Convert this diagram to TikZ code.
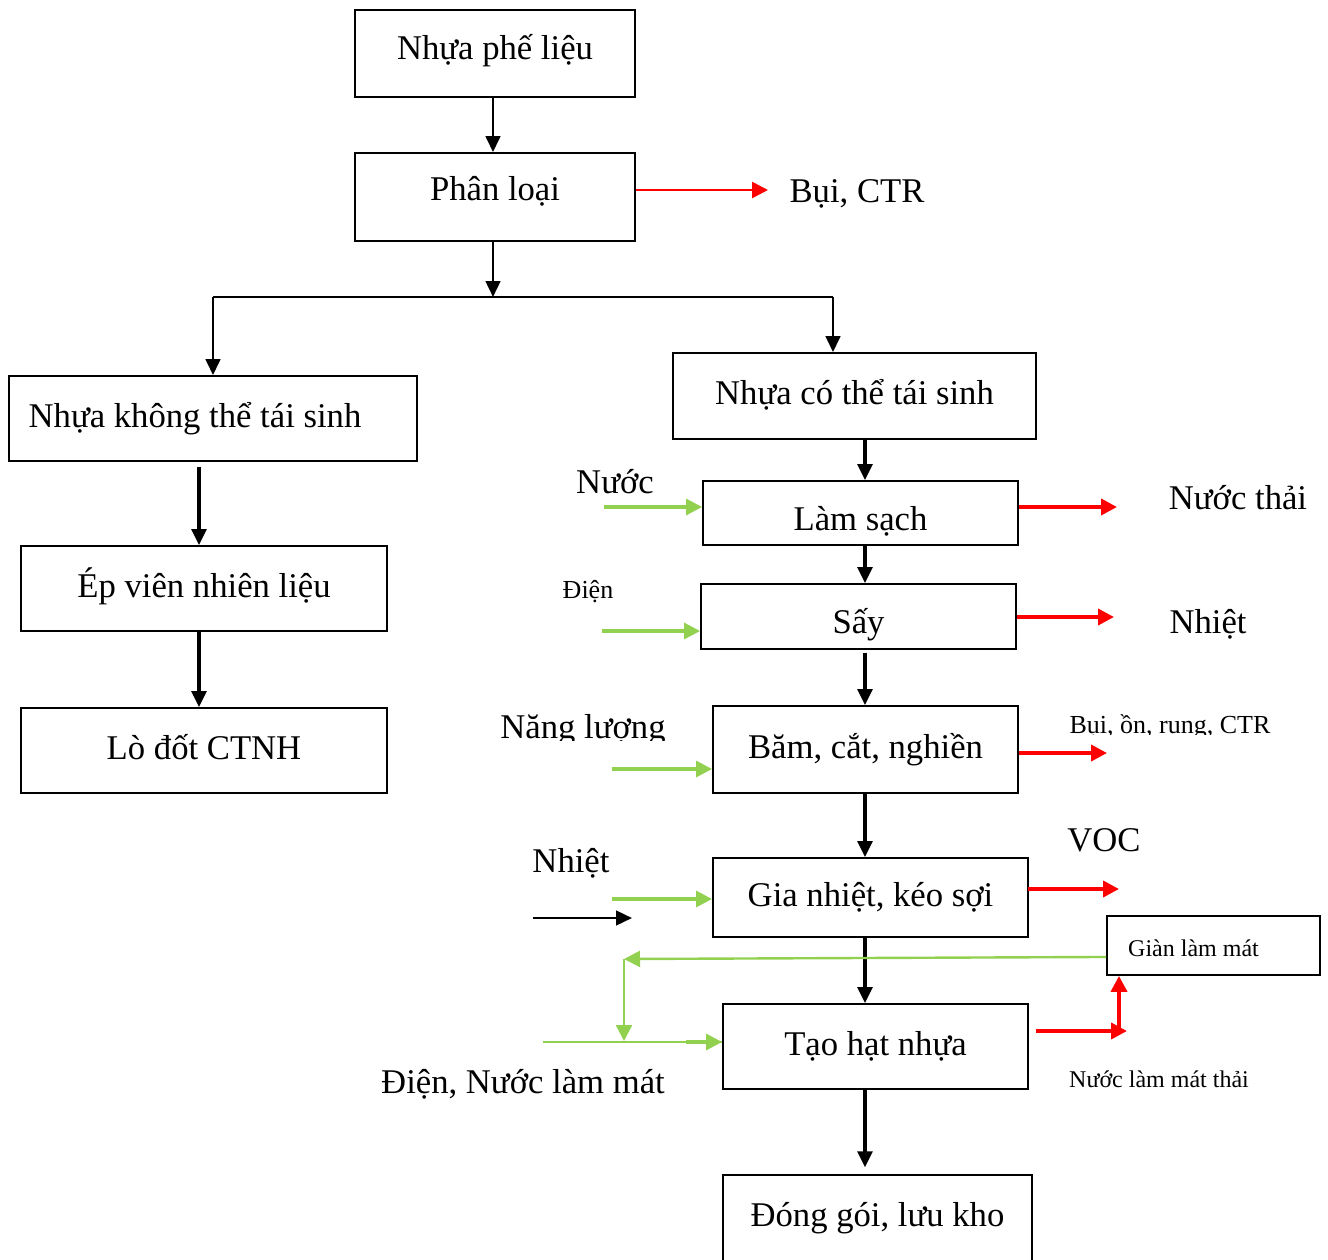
\documentclass[tikz,border=0pt]{standalone}
\usepackage{fontspec}
\setmainfont{Liberation Serif}
\usetikzlibrary{arrows.meta}
\definecolor{grn}{RGB}{146,208,80}
\definecolor{rd}{RGB}{255,0,0}
\begin{document}
\begin{tikzpicture}[x=0.75pt,y=-0.75pt,
  box/.style={draw, line width=1.4pt, inner sep=0pt, font=\fontsize{26}{30}\selectfont, text height=18pt, text depth=5pt},
  sbox/.style={draw, line width=1.4pt, inner sep=0pt, font=\fontsize{18}{21}\selectfont, text height=21pt, text depth=4pt},
  barr/.style={line width=2.6pt, -{Triangle[length=12pt,width=11pt]}},
  tarr/.style={line width=1.9pt, -{Triangle[length=12pt,width=11pt]}},
  garr/.style={grn, line width=2.3pt, -{Triangle[length=12pt,width=12pt]}},
  rarr/.style={rd, line width=2.8pt, -{Triangle[length=12pt,width=12pt]}},
  big/.style={font=\fontsize{26}{30}\selectfont, inner sep=0pt, anchor=base},
  small/.style={font=\fontsize{19.5}{22}\selectfont, inner sep=0pt, anchor=base},
  tiny/.style={font=\fontsize{18}{21}\selectfont, inner sep=0pt, anchor=base}]
\useasboundingbox (0,0) rectangle (1328,1260);

% boxes
\node[box, minimum width=210pt, minimum height=65.25pt, text depth=9.5pt] (n1) at (495,53.5) {Nhựa phế liệu};
\node[box, minimum width=210pt, minimum height=66pt, text depth=12.5pt] (n2) at (495,197) {Phân loại};
\node[box, minimum width=306pt, minimum height=63.75pt] (nk) at (213,418.5) {Nhựa không thể tái sinh\hspace*{27pt}};
\node[box, minimum width=274.5pt, minimum height=63.75pt] (ne) at (204,588.5) {Ép viên nhiên liệu};
\node[box, minimum width=274.5pt, minimum height=63.75pt] (nl) at (204,750.5) {Lò đốt CTNH};
\node[box, minimum width=272.25pt, minimum height=64.5pt] (nc) at (854.5,396) {Nhựa có thể tái sinh};
\node[box, minimum width=236.25pt, minimum height=48pt, text height=31pt] (ls) at (860.5,513) {Làm sạch};
\node[box, minimum width=236.25pt, minimum height=48.75pt, text height=30pt] (say) at (858.5,616.5) {Sấy};
\node[box, minimum width=228.75pt, minimum height=65.25pt] (bam) at (865.5,749.5) {Băm, cắt, nghiền};
\node[box, minimum width=236.25pt, minimum height=59.25pt] (gia) at (870.5,897.5) {Gia nhiệt, kéo sợi};
\node[box, minimum width=228.75pt, minimum height=63.75pt] (tao) at (875.5,1046.5) {Tạo hạt nhựa};
\node[box, minimum width=231.75pt, minimum height=93.75pt, text depth=35pt] (dong) at (877.5,1237.5) {Đóng gói, lưu kho};
\node[sbox, minimum width=159.75pt, minimum height=44.25pt] (gian) at (1213.5,945.5) {Giàn làm mát\hspace*{30pt}};

% labels
\node[big] (lbui) at (857,202) {Bụi, CTR};
\node[big] (lnuoc) at (615,493) {Nước};
\node[small] (ldien) at (588,598) {Điện};
\begin{scope}
  \clip (450,690) rectangle (700,740);
  \node[big] (lnang) at (583,738) {Năng lượng};
\end{scope}
\node[big] (lnhiet) at (571,872) {Nhiệt};
\node[big] (ldnlm) at (523,1093) {Điện, Nước làm mát};
\node[big] (lnt) at (1238,509) {Nước thải};
\node[big] (lnhr) at (1208,633) {Nhiệt};
\begin{scope}
  \clip (1050,690) rectangle (1300,734);
  \node[small] (lbon) at (1170,733) {Bụi, ồn, rung, CTR};
\end{scope}
\node[big] (lvoc) at (1104,851) {VOC};
\node[tiny] (lnlmt) at (1159,1087) {Nước làm mát thải};

% coordinates
\coordinate (c493) at (493,0);
\coordinate (j) at (493,297);
\coordinate (jl) at (213,297);
\coordinate (jr) at (833,297);
\coordinate (lc) at (199,0);
\coordinate (cc) at (865,0);

% black flow
\draw[tarr] (n1.south -| c493) -- (n2.north -| c493);
\draw[tarr] (n2.south -| c493) -- (j);
\draw[line width=1.9pt] (jl) -- (jr);
\draw[tarr] (jl) -- (nk.north -| jl);
\draw[tarr] (jr) -- (nc.north -| jr);
\draw[barr] ([yshift=-3.5pt]nk.south -| lc) -- (ne.north -| lc);
\draw[barr] (ne.south -| lc) -- (nl.north -| lc);
\draw[barr] (nc.south -| cc) -- (ls.north -| cc);
\draw[barr] (ls.south -| cc) -- (say.north -| cc);
\draw[barr] ([yshift=-2pt]say.south -| cc) -- (bam.north -| cc);
\draw[barr] (bam.south -| cc) -- (gia.north -| cc);
\draw[barr] (gia.south -| cc) -- (tao.north -| cc);
\draw[barr] (tao.south -| cc) -- ([yshift=5pt]dong.north -| cc);

% green inputs
\coordinate (g1) at (604,507);
\coordinate (g2) at (602,631);
\coordinate (g3) at (612,769);
\coordinate (g4) at (612,899);
\draw[garr] (g1) -- (g1 -| ls.west);
\draw[garr] (g2) -- (g2 -| say.west);
\draw[garr] (g3) -- (g3 -| bam.west);
\draw[garr] (g4) -- (g4 -| gia.west);
\coordinate (k1) at (533,918);
\coordinate (k2) at (632,918);
\draw[tarr] (k1) -- (k2);

% cooling feedback
\coordinate (fb) at (624,959);
\coordinate (fbd) at (624,1041);
\coordinate (e1) at (543,1042);
\draw[garr, line width=1.8pt] ([yshift=-8.6pt]gian.west) -- (fb);
\draw[garr, line width=1.8pt] (fb) -- (fbd);
\draw[grn, line width=1.3pt] (e1) -- (e1 -| tao.west);
\draw[garr] (686,1042) -- (e1 -| tao.west);

% red outputs
\coordinate (r0) at (768,190);
\coordinate (r1) at (1117,507);
\coordinate (r2) at (1114,617);
\coordinate (r3) at (1107,753);
\coordinate (r4) at (1119,889);
\draw[rarr, line width=2pt] (r0 -| n2.east) -- (r0);
\draw[rarr] (r1 -| ls.east) -- (r1);
\draw[rarr] (r2 -| say.east) -- (r2);
\draw[rarr] (r3 -| bam.east) -- (r3);
\draw[rarr] ([xshift=-1pt]r4 -| gia.east) -- (r4);
\coordinate (t1) at (1036,1031);
\coordinate (t2) at (1127,1031);
\coordinate (t3) at (1119,1031);
\draw[rarr] (t1) -- (t2);
\draw[rarr] (t3) -- (gian.south -| t3);
\end{tikzpicture}
\end{document}
